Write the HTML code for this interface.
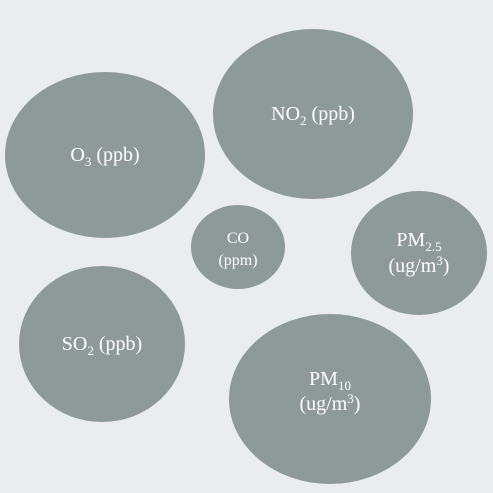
<!DOCTYPE html>
<html>
<head>
<meta charset="utf-8">
<style>
html,body{margin:0;padding:0;background:#e9eded;}
svg{display:block;}
text{font-family:"Liberation Serif",serif;fill:#fff;}
</style>
</head>
<body>
<svg id="chart" width="493" height="493" viewBox="0 0 493 493">
<rect x="0" y="0" width="493" height="493" fill="#e9eded"/>
<g id="bubbles"></g>
</svg>
<script>
const bubbleKeys = ["o3","no2","co","pm25","so2","pm10"];
const centerX = [105, 313, 238, 419, 102, 330];
const centerY = [155, 114, 247, 253, 344, 399];
const radiusX = [100, 100, 47, 68, 83, 101];
const radiusY = [83, 85, 42, 62, 78, 85];
const labelHtml = [
  '<tspan>O</tspan><tspan font-size="13" dy="5">3</tspan><tspan dy="-5"> (ppb)</tspan>',
  '<tspan>NO</tspan><tspan font-size="13" dy="5">2</tspan><tspan dy="-5"> (ppb)</tspan>',
  null,
  null,
  '<tspan>SO</tspan><tspan font-size="13" dy="5">2</tspan><tspan dy="-5"> (ppb)</tspan>',
  null
];
const ns = "http://www.w3.org/2000/svg";
const g = document.getElementById("bubbles");
bubbleKeys.forEach((k, i) => {
  const e = document.createElementNS(ns, "ellipse");
  
  
  e.setAttribute("cx", centerX[i]); e.setAttribute("cy", centerY[i]);
  e.setAttribute("rx", radiusX[i]); e.setAttribute("ry", radiusY[i]);
  e.setAttribute("fill", "#8e999a");
  g.appendChild(e);
  const t = document.createElementNS(ns, "text");
  
  
  t.setAttribute("text-anchor", "middle");
  t.setAttribute("x", centerX[i]);
  if (k === "co") {
    t.setAttribute("font-size", "16");
    t.setAttribute("y", centerY[i] - 4);
    t.innerHTML = '<tspan x="' + centerX[i] + '">CO</tspan><tspan x="' + centerX[i] + '" dy="22">(ppm)</tspan>';
  } else if (k === "pm25") {
    t.setAttribute("font-size", "20");
    t.setAttribute("y", centerY[i] - 7);
    t.innerHTML = '<tspan x="' + centerX[i] + '">PM<tspan font-size="13" dy="5">2.5</tspan></tspan><tspan x="' + centerX[i] + '" dy="21">(ug/m<tspan font-size="13" dy="-7">3</tspan><tspan dy="7">)</tspan></tspan>';
  } else if (k === "pm10") {
    t.setAttribute("font-size", "20");
    t.setAttribute("y", centerY[i] - 14);
    t.innerHTML = '<tspan x="' + centerX[i] + '">PM<tspan font-size="13" dy="5">10</tspan></tspan><tspan x="' + centerX[i] + '" dy="20">(ug/m<tspan font-size="13" dy="-7">3</tspan><tspan dy="7">)</tspan></tspan>';
  } else {
    t.setAttribute("font-size", "20");
    t.setAttribute("y", centerY[i] + 6);
    t.innerHTML = labelHtml[i];
  }
  g.appendChild(t);
});
</script>
</body>
</html>
